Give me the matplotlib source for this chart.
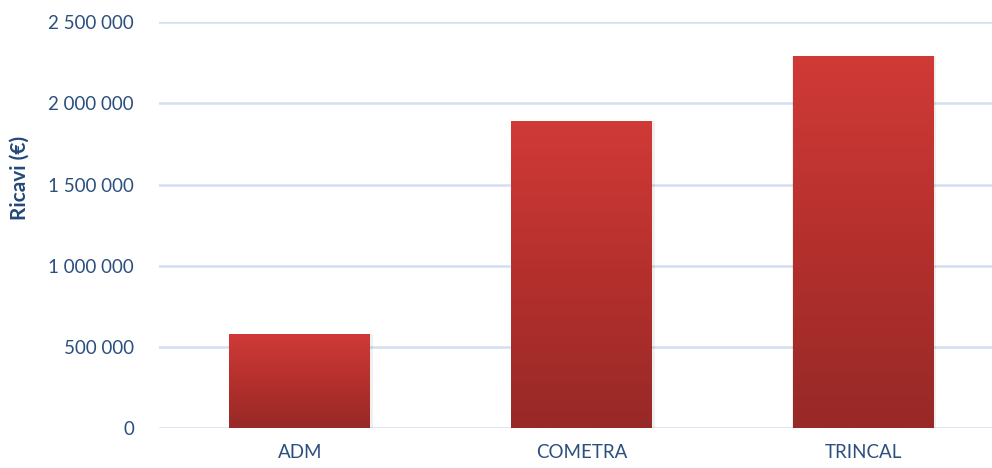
import matplotlib.pyplot as plt
import numpy as np
from matplotlib.colors import LinearSegmentedColormap
from matplotlib.ticker import FuncFormatter

# dati
categorie = ['ADM', 'COMETRA', 'TRINCAL']
ricavi = [580000, 1890000, 2290000]
y_ticks = [0, 500000, 1000000, 1500000, 2000000, 2500000]

plt.rcParams['font.family'] = ['Lato', 'DejaVu Sans']

fig = plt.figure(figsize=(9.92, 4.68), dpi=100)
# asse leggermente oltre il bordo destro, come nell'originale
ax = fig.add_axes([159 / 992, 1 - 428.3 / 468, 845 / 992, 406.3 / 468])

x = np.arange(len(categorie))
larghezza = 0.5
barre = ax.bar(x, ricavi, width=larghezza, color='none', zorder=3)

# gradiente verticale sulle barre
cmap = LinearSegmentedColormap.from_list('rosso', ['#972927', '#b5302d', '#d03a37'])
grad = np.linspace(0, 1, 256).reshape(-1, 1)
for b, v in zip(barre, ricavi):
    x0 = b.get_x()
    # ombra leggera
    ax.bar(b.get_x() + larghezza / 2 + 0.004, v, width=larghezza + 0.012,
           color='#000000', alpha=0.06, zorder=2)
    im = ax.imshow(grad, cmap=cmap, origin='lower', aspect='auto',
                   extent=[x0, x0 + larghezza, 0, v], zorder=3)
    im.set_clip_path(b)

ax.set_xlim(-0.5, len(categorie) - 0.5)
ax.set_ylim(0, 2500000)
ax.set_yticks(y_ticks)
ax.yaxis.set_major_formatter(FuncFormatter(lambda v, p: f'{int(v):,}'.replace(',', ' ')))
ax.set_xticks(x)
ax.set_xticklabels(categorie)

ax.grid(axis='y', color='#d3dfef', linewidth=1.8, zorder=0)
for s in ax.spines.values():
    s.set_visible(False)
ax.tick_params(axis='both', length=0, labelsize=13.5, labelcolor='#2b4f7e')
ax.tick_params(axis='y', pad=18)
ax.tick_params(axis='x', pad=11)

fig.text(20 / 992, 1 - 178 / 468, 'Ricavi (€)', rotation=90, ha='center', va='center',
         fontsize=15, fontweight='bold', color='#23487a')

fig.savefig('out.png', dpi=100)
